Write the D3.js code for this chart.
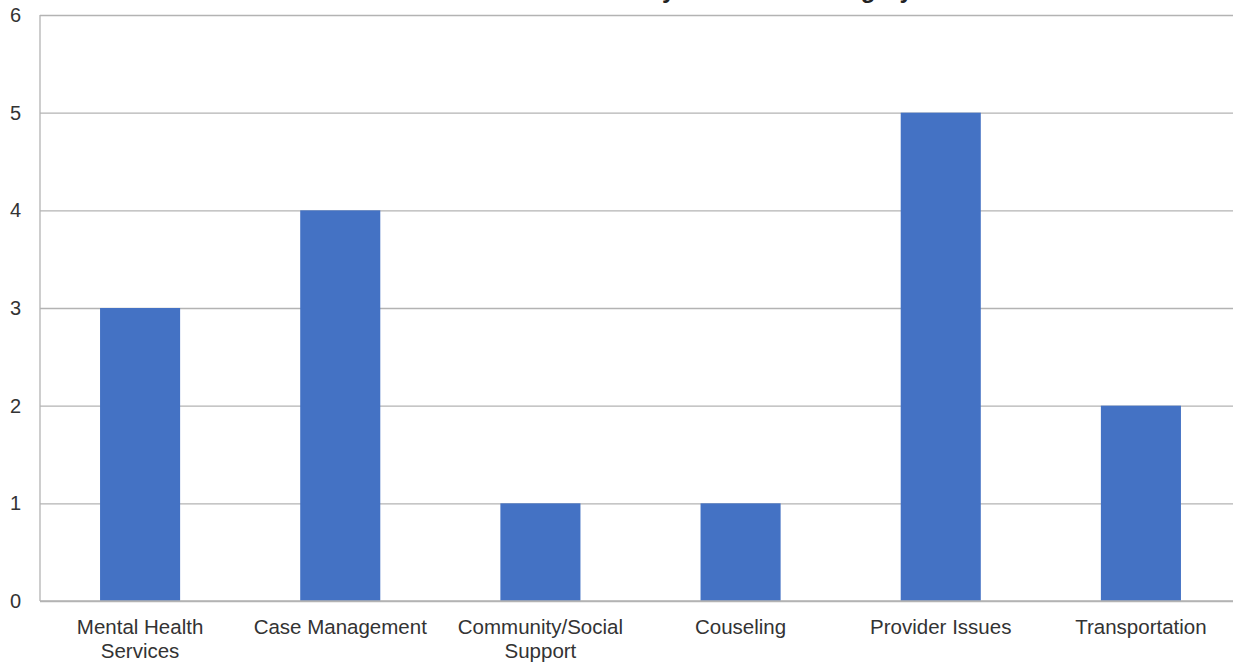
<!DOCTYPE html>
<html><head><meta charset="utf-8">
<script src="https://cdn.jsdelivr.net/npm/d3@7"></script>
<style>body{margin:0;background:#fff;}svg{display:block;font-family:"Liberation Sans",Arial,sans-serif;}</style>
</head><body>
<svg id="c" width="1233" height="664"></svg>
<script>
const categories = [["Mental Health","Services"],["Case Management"],["Community/Social","Support"],["Couseling"],["Provider Issues"],["Transportation"]];
const values = [3,4,1,1,5,2];
const yTicks = [0,1,2,3,4,5,6];
const title = "Summary of Referral Category";

(function(){
const svg = d3.select("#c");
const mL = 40, mR = 1241, mT = 15, mB = 601;
const x = d3.scaleBand().domain(d3.range(categories.length)).range([mL, mR]).paddingInner(0.6).paddingOuter(0.3);
const y = d3.scaleLinear().domain([0,6]).range([mB, mT]);

svg.append("text").attr("x", 566).attr("y", -2).attr("font-size", 24).attr("font-weight", "bold").attr("fill", "#222").text(title);

const yAxis = d3.axisLeft(y).tickValues(yTicks).tickSize(-(mR-mL)).tickPadding(19).tickFormat(d3.format("d"));
const gy = svg.append("g").attr("transform", `translate(${mL},0)`).call(yAxis);
gy.select(".domain").remove();
gy.selectAll(".tick line").attr("stroke", "#b3b3b3").attr("stroke-width", 1.3);
gy.selectAll(".tick text").attr("font-size", 20).attr("fill", "#333").attr("font-family", "Liberation Sans, Arial, sans-serif");

svg.append("line").attr("x1", mL).attr("x2", mL).attr("y1", mT).attr("y2", mB).attr("stroke", "#b3b3b3").attr("stroke-width", 1.3);

svg.append("g").selectAll("rect").data(values).join("rect")
  .attr("x", (d,i) => x(i)).attr("width", x.bandwidth())
  .attr("y", d => y(d)).attr("height", d => y(0) - y(d))
  .attr("fill", "#4472C4");

svg.append("line").attr("x1", mL).attr("x2", mR).attr("y1", mB).attr("y2", mB).attr("stroke", "#b3b3b3").attr("stroke-width", 1.3);

const xl = svg.append("g").selectAll("text").data(categories).join("text")
  .attr("x", (d,i) => x(i) + x.bandwidth()/2).attr("y", 634)
  .attr("text-anchor", "middle").attr("font-size", 20.5).attr("fill", "#333");
xl.each(function(d){
  const t = d3.select(this);
  d.forEach((line, k) => t.append("tspan").attr("x", t.attr("x")).attr("dy", k === 0 ? 0 : 24).text(line));
});
})();
</script>
</body></html>
